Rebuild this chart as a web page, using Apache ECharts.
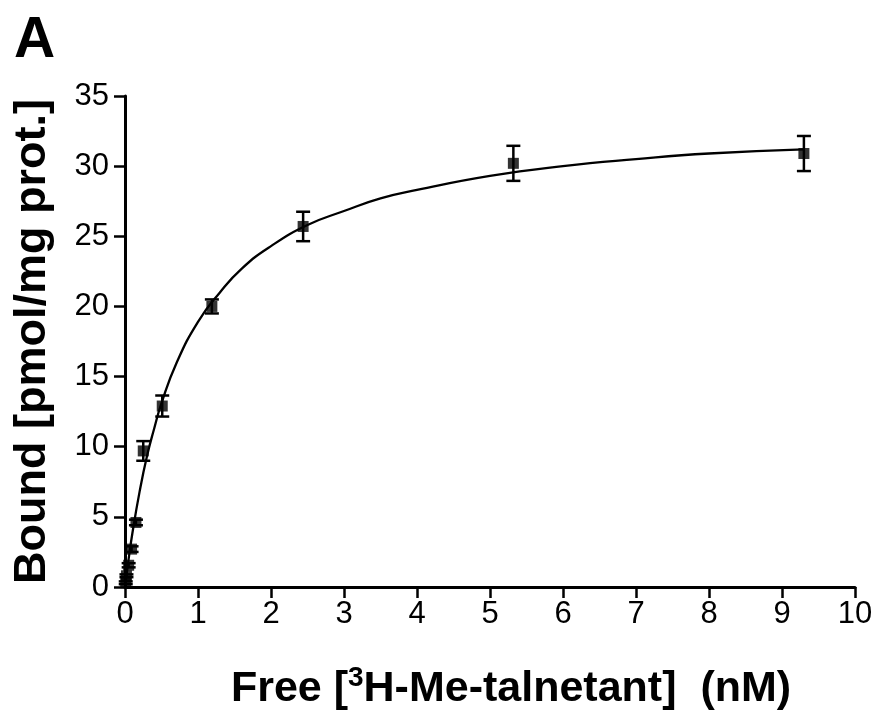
<!DOCTYPE html>
<html>
<head>
<meta charset="utf-8">
<script src="https://cdn.jsdelivr.net/npm/echarts@6/dist/echarts.min.js"></script>
<style>
  html, body { margin: 0; padding: 0; background: #fff; }
  #chart { width: 884px; height: 721px; }
</style>
</head>
<body>
<div id="chart"></div>
<script>
'use strict';

// measured points (free nM, bound pmol/mg prot.) with SEM
var freeConc = [0.01, 0.02, 0.05, 0.09, 0.15, 0.25, 0.51, 1.19, 2.44, 5.32, 9.30];
var bound    = [0.3, 0.8, 1.55, 2.7, 4.6, 9.7, 12.9, 20.0, 25.7, 30.2, 30.9];
var sem      = [0.1, 0.1, 0.15, 0.2, 0.2, 0.7, 0.75, 0.5, 1.05, 1.25, 1.25];

// fitted saturation curve
var curveX = [0, 0.05, 0.1, 0.2, 0.3, 0.4, 0.5, 0.7, 1.0, 1.3, 1.6, 2.0, 2.5, 3.0, 3.5, 4.0, 5.0, 6.0, 7.0, 8.0, 9.3];
var curveY = [0, 2.0, 3.8, 6.8, 9.3, 11.3, 13.1, 15.9, 18.9, 21.0, 22.7, 24.3, 25.8, 26.8, 27.7, 28.3, 29.3, 30.0, 30.5, 30.9, 31.2];

var xTicks = [0, 10, 1];
var yTicks = [0, 35, 5];

var chart = echarts.init(document.getElementById('chart'));

var pts = freeConc.map(function (x, i) { return [x, bound[i]]; });
var errs = freeConc.map(function (x, i) { return [x, bound[i] - sem[i], bound[i] + sem[i]]; });
var curve = curveX.map(function (x, i) { return [x, curveY[i]]; });

var axisFont = { fontFamily: 'Liberation Sans', fontSize: 31, color: '#000' };

var option = {
    animation: false,
    backgroundColor: '#fff',
    title: {
        text: 'A',
        left: 9,
        top: 8,
        textStyle: { fontFamily: 'Liberation Sans', fontSize: 57, fontWeight: 'bold', color: '#000' }
    },
    grid: { left: 125, right: 29, top: 96, bottom: 134 },
    xAxis: {
        type: 'value',
        min: xTicks[0], max: xTicks[1], interval: xTicks[2],
        name: 'Free [{sup|3}H-Me-talnetant]  (nM)',
        nameLocation: 'middle',
        nameGap: 77,
        nameTextStyle: {
            fontFamily: 'Liberation Sans', fontSize: 43, fontWeight: 'bold', color: '#000',
            padding: [0, 0, 0, 42],
            rich: {
                sup: { fontFamily: 'Liberation Sans', fontSize: 28, fontWeight: 'bold', color: '#000',
                       verticalAlign: 'top', padding: [0, 0, 22, 0] }
            }
        },
        axisLine: { lineStyle: { color: '#000', width: 3 } },
        axisTick: { length: 11, lineStyle: { color: '#000', width: 2.5 } },
        axisLabel: Object.assign({ margin: 12 }, axisFont),
        splitLine: { show: false }
    },
    yAxis: {
        type: 'value',
        min: yTicks[0], max: yTicks[1], interval: yTicks[2],
        name: 'Bound [pmol/mg prot.]',
        nameLocation: 'middle',
        nameGap: 70,
        nameTextStyle: { fontFamily: 'Liberation Sans', fontSize: 45, fontWeight: 'bold', color: '#000' },
        axisLine: { lineStyle: { color: '#000', width: 3 } },
        axisTick: { length: 11, lineStyle: { color: '#000', width: 2.5 } },
        axisLabel: Object.assign({ margin: 16 }, axisFont),
        splitLine: { show: false }
    },
    series: [
        {
            name: 'fit',
            type: 'line',
            data: curve,
            smooth: true,
            showSymbol: false,
            lineStyle: { color: '#000', width: 2.3 },
            z: 2
        },
        {
            name: 'error',
            type: 'custom',
            data: errs,
            renderItem: function (params, api) {
                var x = api.value(0);
                var lo = api.coord([x, api.value(1)]);
                var hi = api.coord([x, api.value(2)]);
                var cap = 7;
                var st = { stroke: '#000', lineWidth: 2.5 };
                return {
                    type: 'group',
                    children: [
                        { type: 'line', shape: { x1: lo[0], y1: lo[1], x2: hi[0], y2: hi[1] }, style: st },
                        { type: 'line', shape: { x1: lo[0] - cap, y1: lo[1], x2: lo[0] + cap, y2: lo[1] }, style: st },
                        { type: 'line', shape: { x1: hi[0] - cap, y1: hi[1], x2: hi[0] + cap, y2: hi[1] }, style: st }
                    ]
                };
            },
            z: 3
        },
        {
            name: 'bound',
            type: 'scatter',
            data: pts,
            symbol: 'rect',
            symbolSize: 11,
            itemStyle: { color: '#000' },
            z: 4
        }
    ]
};

chart.setOption(option);
</script>
</body>
</html>
